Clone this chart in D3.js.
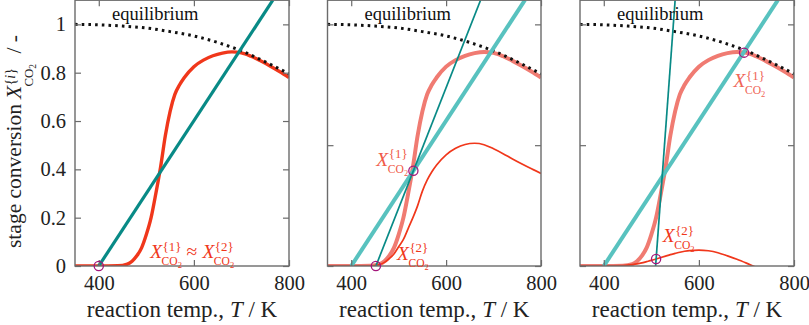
<!DOCTYPE html>
<html>
<head>
<meta charset="utf-8">
<script src="https://cdn.jsdelivr.net/npm/d3@7"></script>
<style>
  body { margin: 0; background: #fff; }
  svg { display: block; }
  text { font-family: "Liberation Serif", "Times New Roman", serif; }
</style>
</head>
<body>
<svg id="chart" width="809" height="325" font-family="Liberation Serif"></svg>
<script>
// temperature grid (K) for the stage conversion curves
const tempGrid = [350, 400, 440, 460, 470, 480, 490, 500, 510, 520, 530, 540, 550, 560, 570, 580,
                  600, 620, 640, 660, 680, 700, 720, 740, 760, 780, 800];
// first stage conversion (same in every panel)
const convStage1 = [0, 0, 0.001, 0.008, 0.02, 0.042, 0.075, 0.13, 0.2, 0.3, 0.41, 0.54, 0.64, 0.71, 0.75, 0.78,
                    0.825, 0.852, 0.87, 0.881, 0.886, 0.882, 0.868, 0.849, 0.828, 0.805, 0.78];
// second stage conversion, middle panel
const convStage2Mid = [0, 0, 0, 0.006, 0.015, 0.03, 0.05, 0.08, 0.11, 0.155, 0.2, 0.25, 0.31, 0.355, 0.39, 0.418,
                       0.46, 0.487, 0.503, 0.508, 0.502, 0.485, 0.465, 0.443, 0.422, 0.402, 0.383];
// second stage conversion, right panel
const convStage2Right = [0, 0, 0.002, 0.006, 0.009, 0.013, 0.018, 0.023, 0.029, 0.035, 0.041, 0.047, 0.052, 0.057, 0.061, 0.064,
                         0.066, 0.063, 0.055, 0.042, 0.028, 0.012, -0.005, -0.02, -0.035, -0.05, -0.065];
// equilibrium conversion
const eqTemp = [350, 400, 450, 500, 550, 600, 650, 700, 750, 800];
const eqConv = [1.0, 0.998, 0.993, 0.985, 0.97, 0.952, 0.925, 0.89, 0.845, 0.795];
// operating lines (end points, T / K and X)
const opLineShallowT = [400, 766];
const opLineShallowX = [0, 1.1];
const opLineMidT = [452, 672.6];
const opLineMidX = [0, 1.1];
const opLineSteepT = [509, 550];
const opLineSteepX = [0, 1.1];
// marked intersection points
const markLeftT = [400], markLeftX = [0];
const markMidT = [452, 531], markMidX = [0, 0.394];
const markRightT = [510, 695], markRightX = [0.029, 0.883];

const xTicks = [400, 600, 800];
const yTicksFine = [0, 0.2, 0.4, 0.6, 0.8, 1];
const yTicksCoarse = [0, 0.5, 1];

const red = "#f0371b", pink = "#f07b72", teal = "#088a86", lightTeal = "#58c2bf",
      ring = "#a3167a", frame = "#6b6b6b";

const zip = (t, v) => t.map((d, i) => [d, v[i]]);

const panels = [
  { left: 75, right: 289, yTicks: yTicksFine, yLabels: true,
    curves: [{ data: zip(tempGrid, convStage1), color: red, width: 3.4 }],
    lines: [{ data: zip(opLineShallowT, opLineShallowX), color: teal, width: 3.2 }],
    marks: zip(markLeftT, markLeftX) },
  { left: 327.5, right: 541, yTicks: yTicksCoarse, yLabels: false,
    curves: [{ data: zip(tempGrid, convStage1), color: pink, width: 4 },
             { data: zip(tempGrid, convStage2Mid), color: red, width: 1.7 }],
    lines: [{ data: zip(opLineShallowT, opLineShallowX), color: lightTeal, width: 4 },
            { data: zip(opLineMidT, opLineMidX), color: teal, width: 1.7 }],
    marks: zip(markMidT, markMidX) },
  { left: 580, right: 794, yTicks: yTicksCoarse, yLabels: false,
    curves: [{ data: zip(tempGrid, convStage1), color: pink, width: 4 },
             { data: zip(tempGrid, convStage2Right), color: red, width: 1.7 }],
    lines: [{ data: zip(opLineShallowT, opLineShallowX), color: lightTeal, width: 4 },
            { data: zip(opLineSteepT, opLineSteepX), color: teal, width: 1.7 }],
    marks: zip(markRightT, markRightX) }
];

const svg = d3.select("#chart");
const plotTop = 0.2, plotBottom = 266;
const y = d3.scaleLinear().domain([0, 1.1]).range([plotBottom, plotTop]);

// italic X with {sup} and CO2 subscript, returns end x
function mathX(g, x0, y0, sup, s, color, subDrop, supRise) {
  const main = g.append("text").attr("x", x0).attr("y", y0).attr("font-size", s)
    .attr("font-style", "italic").attr("fill", color).text("X");
  const w = main.node().getComputedTextLength();
  const ss = s * 0.66;
  const supT = g.append("text").attr("x", x0 + w + 0.5).attr("y", y0 - supRise)
    .attr("font-size", ss).attr("fill", color);
  supT.append("tspan").text("{");
  supT.append("tspan").attr("font-style", sup === "i" ? "italic" : "normal").text(sup);
  supT.append("tspan").text("}");
  const subT = g.append("text").attr("x", x0 + w - 0.5).attr("y", y0 + subDrop)
    .attr("font-size", ss * 0.9).attr("fill", color);
  subT.append("tspan").text("CO");
  subT.append("tspan").attr("font-size", ss * 0.66).attr("dy", ss * 0.2).text("2");
  const wSup = supT.node().getComputedTextLength();
  const wSub = subT.node().getComputedTextLength();
  return x0 + w + Math.max(wSup, wSub);
}

panels.forEach((p, i) => {
  const x = d3.scaleLinear().domain([350, 800]).range([p.left, p.right]);
  const g = svg.append("g");
  const clipId = "clip" + i;
  svg.append("clipPath").attr("id", clipId).append("rect")
    .attr("x", p.left).attr("y", 0).attr("width", p.right - p.left).attr("height", plotBottom);

  const line = d3.line().x(d => x(d[0])).y(d => y(d[1]));
  const smooth = d3.line().x(d => x(d[0])).y(d => y(d[1])).curve(d3.curveMonotoneX);
  const plot = g.append("g").attr("clip-path", `url(#${clipId})`);

  p.curves.forEach(c => plot.append("path").attr("d", smooth(c.data)).attr("fill", "none")
    .attr("stroke", c.color).attr("stroke-width", c.width));

  plot.append("path").attr("d", smooth(zip(eqTemp, eqConv))).attr("fill", "none")
    .attr("stroke", "#111").attr("stroke-width", 3).attr("stroke-dasharray", "2.6,4.1");

  p.lines.forEach(l => plot.append("path").attr("d", line(l.data)).attr("fill", "none")
    .attr("stroke", l.color).attr("stroke-width", l.width));

  // frame and inward ticks
  const axes = [
    [d3.axisLeft(y).tickValues(p.yTicks), `translate(${p.left},0)`, p.yLabels],
    [d3.axisRight(y).tickValues(p.yTicks), `translate(${p.right},0)`, false],
    [d3.axisBottom(x).tickValues(xTicks), `translate(0,${plotBottom})`, true],
    [d3.axisTop(x).tickValues(xTicks), `translate(0,${plotTop})`, false]
  ];
  axes.forEach(([ax, tr, labels]) => {
    const a = g.append("g").attr("transform", tr)
      .call(ax.tickSize(-6).tickPadding(labels ? 9 : 0).tickFormat(labels ? d3.format("~g") : ""));
    a.attr("font-family", "Liberation Serif");
    a.select(".domain").remove();
    a.selectAll("line").attr("stroke", frame).attr("stroke-width", 1.2);
    a.selectAll("text").attr("font-size", 20.5).attr("fill", "#222");
  });
  g.append("rect").attr("x", p.left).attr("y", plotTop).attr("width", p.right - p.left)
    .attr("height", plotBottom - plotTop).attr("fill", "none").attr("stroke", frame).attr("stroke-width", 1.4);

  g.selectAll(".mark").data(p.marks).enter().append("circle").attr("class", "mark")
    .attr("cx", d => x(d[0])).attr("cy", d => y(d[1])).attr("r", 4.6)
    .attr("fill", "none").attr("stroke", ring).attr("stroke-width", 1.3);

  g.append("text").attr("x", x(428)).attr("y", y(1.018)).attr("font-size", 18.5)
    .attr("fill", "#111").text("equilibrium");

  g.append("text").attr("x", (p.left + p.right) / 2).attr("y", 317).attr("text-anchor", "middle")
    .attr("font-size", 23).attr("fill", "#222")
    .call(t => {
      t.append("tspan").text("reaction temp., ");
      t.append("tspan").attr("font-style", "italic").text("T");
      t.append("tspan").text(" / K");
    });

  // curve annotations
  const fs = 19.5;
  if (i === 0) {
    const e = mathX(g, x(508), y(0.033), "1", fs, red, 7, 7.5);
    g.append("text").attr("x", e + 4).attr("y", y(0.033)).attr("font-size", fs).attr("fill", red).text("≈");
    mathX(g, e + 20, y(0.033), "2", fs, red, 7, 7.5);
  } else if (i === 1) {
    mathX(g, x(453), y(0.414), "1", fs, "#f05a48", 7, 7.5);
    mathX(g, x(496.5), y(0.025), "2", fs, red, 7, 7.5);
  } else {
    mathX(g, x(673), y(0.74), "1", fs, "#ef6556", 7, 7.5);
    mathX(g, x(524), y(0.099), "2", fs, red, 7, 7.5);
  }
});

// rotated y-axis title
const yl = svg.append("g").attr("transform", "translate(21,248) rotate(-90)");
const t1 = yl.append("text").attr("x", 0).attr("y", 0).attr("font-size", 21.5).attr("fill", "#222")
  .text("stage conversion");
const w1 = t1.node().getComputedTextLength();
const e1 = mathX(yl, w1 + 5, 0, "i", 21.5, "#222", 12, 6.5);
yl.append("text").attr("x", e1 + 10).attr("y", 0).attr("font-size", 21.5).attr("fill", "#222").text("/ -");
</script>
</body>
</html>
